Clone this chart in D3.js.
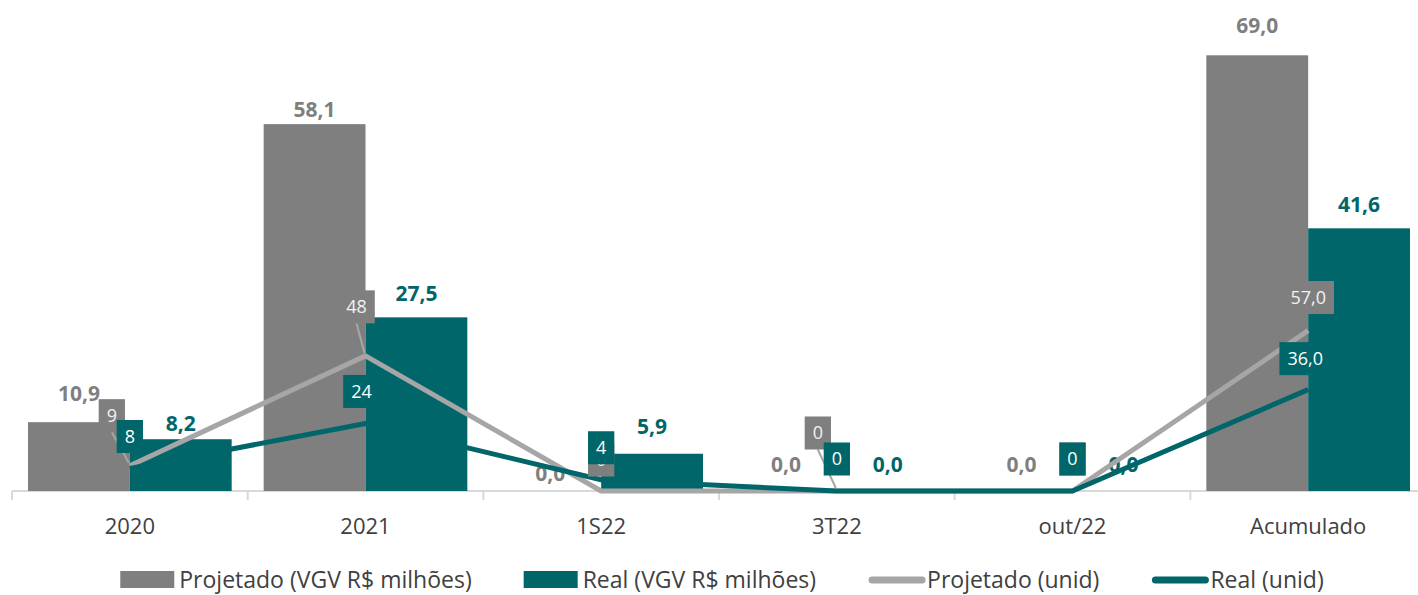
<!DOCTYPE html>
<html>
<head>
<meta charset="utf-8">
<script src="https://cdn.jsdelivr.net/npm/d3@7"></script>
<style>
  body { margin: 0; background: #fff; }
  svg { display: block; font-family: "Open Sans", sans-serif; }
</style>
</head>
<body>
<svg id="chart" width="1418" height="595"></svg>
<script>
// data
const categories = ["2020", "2021", "1S22", "3T22", "out/22", "Acumulado"];
const vgvProjetado = [10.9, 58.1, 0.0, 0.0, 0.0, 69.0];
const vgvReal = [8.2, 27.5, 5.9, 0.0, 0.0, 41.6];
const unidProjetado = [9, 48, 0, 0, 0, 57];
const unidReal = [8, 24, 4, 0, 0, 36];
const unidDecimals = [0, 0, 0, 0, 0, 1];
const legendLabels = ["Projetado (VGV R$ milhões)", "Real (VGV R$ milhões)", "Projetado (unid)", "Real (unid)"];

// layout tweaks (label placement as in the source chart)
const barLabelGapProj = [21, 7, 10, 19, 19, 22];
const barLabelGapReal = [8, 16, 20, 19, 19, 16];
const projBoxShift = [[-18, -50], [-9, -49], [0, -31], [-19, -58], [0, -32], [0, -33]];
const realBoxShift = [[0, -32], [-4, -32], [0, -32], [0, -32], [0, -32], [-3, -31]];
const projLeader = [true, true, false, true, false, false];

const colGray = "#7f7f7f";
const colTeal = "#00666a";
const colLight = "#a6a6a6";
const colText = "#404040";

const svg = d3.select("#chart");
const baseY = 491;

const x = d3.scaleBand().domain(categories).range([12, 1426]).padding(0);
const xs = d3.scaleBand().domain(["p", "r"]).range([16, x.bandwidth() - 16]);
const yL = d3.scaleLinear().domain([0, 70]).range([baseY, 49]);
const yR = d3.scaleLinear().domain([0, 157]).range([baseY, 49]);

const fmt1 = v => d3.format(".1f")(v).replace(".", ",");
const fmtU = (v, i) => unidDecimals[i] ? fmt1(v) : String(v);
const cx = c => x(c) + x.bandwidth() / 2;

// axis
const axis = svg.append("g")
  .attr("transform", `translate(0,${baseY})`)
  .call(d3.axisBottom(x).tickSize(0).tickPadding(27));
axis.select(".domain").remove();
axis.selectAll("text")
  .attr("font-size", 22)
  .attr("font-family", "Open Sans, sans-serif")
  .attr("fill", colText);

svg.append("line")
  .attr("x1", 12).attr("x2", 1418)
  .attr("y1", baseY).attr("y2", baseY)
  .attr("stroke", "#d9d9d9").attr("stroke-width", 2);

svg.append("g").selectAll("line")
  .data(categories)
  .join("line")
  .attr("x1", d => x(d)).attr("x2", d => x(d))
  .attr("y1", baseY).attr("y2", baseY + 9)
  .attr("stroke", "#d9d9d9").attr("stroke-width", 2);

// bars
const bars = svg.append("g");
bars.selectAll(".bp")
  .data(categories)
  .join("rect")
  .attr("class", "bp")
  .attr("x", d => x(d) + xs("p"))
  .attr("width", xs.bandwidth())
  .attr("y", (d, i) => yL(vgvProjetado[i]))
  .attr("height", (d, i) => baseY - yL(vgvProjetado[i]))
  .attr("fill", colGray);

bars.selectAll(".br")
  .data(categories)
  .join("rect")
  .attr("class", "br")
  .attr("x", d => x(d) + xs("r"))
  .attr("width", xs.bandwidth())
  .attr("y", (d, i) => yL(vgvReal[i]))
  .attr("height", (d, i) => baseY - yL(vgvReal[i]))
  .attr("fill", colTeal);

// bar labels
const barLabels = svg.append("g")
  .attr("font-size", 21)
  .attr("font-weight", "bold")
  .attr("text-anchor", "middle");

barLabels.selectAll(".lp")
  .data(categories)
  .join("text")
  .attr("class", "lp")
  .attr("x", d => x(d) + xs("p") + xs.bandwidth() / 2)
  .attr("y", (d, i) => yL(vgvProjetado[i]) - barLabelGapProj[i])
  .attr("fill", colGray)
  .text((d, i) => fmt1(vgvProjetado[i]));

barLabels.selectAll(".lr")
  .data(categories)
  .join("text")
  .attr("class", "lr")
  .attr("x", d => x(d) + xs("r") + xs.bandwidth() / 2)
  .attr("y", (d, i) => yL(vgvReal[i]) - barLabelGapReal[i])
  .attr("fill", colTeal)
  .text((d, i) => fmt1(vgvReal[i]));

// lines
const lineP = d3.line().x(d => cx(d[0])).y(d => yR(d[1]));
svg.append("path")
  .datum(categories.map((c, i) => [c, unidProjetado[i]]))
  .attr("d", lineP)
  .attr("fill", "none")
  .attr("stroke", colLight)
  .attr("stroke-width", 5)
  .attr("stroke-linejoin", "round");

svg.append("path")
  .datum(categories.map((c, i) => [c, unidReal[i]]))
  .attr("d", lineP)
  .attr("fill", "none")
  .attr("stroke", colTeal)
  .attr("stroke-width", 5)
  .attr("stroke-linejoin", "round");

// line labels with boxes
function boxLabels(values, shifts, fill, textFill, leader) {
  const g = svg.append("g");
  categories.forEach((c, i) => {
    const px = cx(c), py = yR(values[i]);
    const bx = px + shifts[i][0], by = py + shifts[i][1];
    const t = g.append("text")
      .attr("x", bx).attr("y", by)
      .attr("dy", "0.36em")
      .attr("text-anchor", "middle")
      .attr("font-size", 18)
      .attr("fill", textFill)
      .text(fmtU(values[i], i));
    const w = t.node().getComputedTextLength() + 16;
    const h = 33;
    if (leader && leader[i]) {
      g.insert("line", "text")
        .attr("x1", bx).attr("y1", by + h / 2)
        .attr("x2", px - 1).attr("y2", py - 3)
        .attr("stroke", colLight).attr("stroke-width", 2);
    }
    g.insert("rect", "text")
      .attr("x", bx - w / 2).attr("y", by - h / 2)
      .attr("width", w).attr("height", h)
      .attr("fill", fill);
  });
}
boxLabels(unidProjetado, projBoxShift, colGray, "#f2f2f2", projLeader);
boxLabels(unidReal, realBoxShift, colTeal, "#ffffff", null);

// legend
const legend = svg.append("g").attr("font-size", 23).attr("fill", colText);
let lx = 0;
legendLabels.forEach((lab, i) => {
  const it = legend.append("g");
  if (i < 2) {
    it.append("rect").attr("x", 0).attr("y", -9).attr("width", 54).attr("height", 17)
      .attr("fill", i === 0 ? colGray : colTeal);
  } else {
    it.append("line").attr("x1", 4).attr("x2", 54).attr("y1", 0).attr("y2", 0)
      .attr("stroke", i === 2 ? colLight : colTeal)
      .attr("stroke-width", 7).attr("stroke-linecap", "round");
  }
  const t = it.append("text").attr("x", 59).attr("dy", "0.36em").attr("fill", colText).text(lab);
  it.attr("transform", `translate(${lx},0)`);
  lx += 59 + t.node().getComputedTextLength() + 52;
});
const totalW = lx - 52;
legend.attr("transform", `translate(${722 - totalW / 2},580)`);
</script>
</body>
</html>
